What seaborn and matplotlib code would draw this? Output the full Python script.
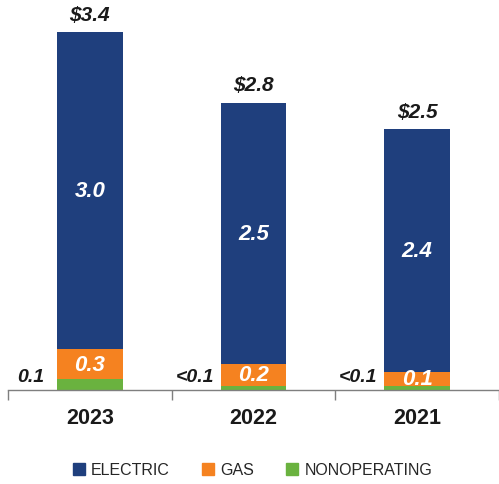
import matplotlib
matplotlib.use("Agg")
import matplotlib.pyplot as plt
import matplotlib.patches as mpatches
import seaborn as sns
import pandas as pd
import numpy as np

years = ["2023", "2022", "2021"]
electric = [3.0, 2.47, 2.30]
gas = [0.29, 0.21, 0.13]
nonop = [0.10, 0.04, 0.04]
total_labels = ["$3.4", "$2.8", "$2.5"]
electric_labels = ["3.0", "2.5", "2.4"]
gas_labels = ["0.3", "0.2", "0.1"]
nonop_labels = ["0.1", "<0.1", "<0.1"]

C_ELEC = "#1F3F7D"
C_GAS = "#F58220"
C_NON = "#6AB23F"

sns.set_theme(style="white")
plt.rcParams["font.family"] = ["Liberation Sans", "DejaVu Sans"]

df = pd.DataFrame({"year": years, "electric": electric, "gas": gas, "nonop": nonop})
df["top"] = df["electric"] + df["gas"] + df["nonop"]
df["mid"] = df["gas"] + df["nonop"]

fig = plt.figure(figsize=(4.99, 4.85), dpi=100)
ax = fig.add_axes([8 / 499, 1 - 391 / 485, 491 / 499, 391 / 485])

sns.barplot(data=df, x="year", y="top", color=C_ELEC, width=0.40, ax=ax, saturation=1, linewidth=0)
sns.barplot(data=df, x="year", y="mid", color=C_GAS, width=0.40, ax=ax, saturation=1, linewidth=0)
sns.barplot(data=df, x="year", y="nonop", color=C_NON, width=0.40, ax=ax, saturation=1, linewidth=0)

ax.set_xlim(-0.5, 2.5)
ax.set_ylim(0, 3.4 * 391 / 359)
ax.set_xlabel("")
ax.set_ylabel("")
ax.set_yticks([])
for s in ["top", "right", "left"]:
    ax.spines[s].set_visible(False)
ax.spines["bottom"].set_color("#7f7f7f")
ax.spines["bottom"].set_linewidth(1.0)

ax.set_xticks(range(len(years)))
ax.set_xticklabels(years, fontsize=15.5, fontweight="bold", color="#1a1a1a")
ax.tick_params(axis="x", which="major", length=0, pad=12)
ax.set_xticks([-0.5, 0.5, 1.5, 2.5], minor=True)
ax.tick_params(axis="x", which="minor", bottom=True, length=7, width=1, color="#7f7f7f", direction="out")

for i in range(len(years)):
    t = df["top"][i]
    ax.text(i, t + 0.08, total_labels[i], ha="center", va="bottom", color="#1a1a1a",
            fontsize=15, fontweight="bold", fontstyle="italic")
    ax.text(i, df["mid"][i] + df["electric"][i] / 2, electric_labels[i], ha="center", va="center",
            color="white", fontsize=16, fontweight="bold", fontstyle="italic")
    ax.text(i, df["nonop"][i] + df["gas"][i] / 2, gas_labels[i], ha="center", va="center",
            color="white", fontsize=16, fontweight="bold", fontstyle="italic")
    ax.text(i - 0.36, 0.128, nonop_labels[i], ha="center", va="center", color="#1a1a1a",
            fontsize=14, fontweight="bold", fontstyle="italic")

handles = [mpatches.Patch(color=C_ELEC, label="ELECTRIC"),
           mpatches.Patch(color=C_GAS, label="GAS"),
           mpatches.Patch(color=C_NON, label="NONOPERATING")]
fig.legend(handles=handles, loc="center", bbox_to_anchor=(0.506, 1 - 471 / 485), ncol=3,
           frameon=False, fontsize=11.5, handlelength=0.75, handleheight=0.75,
           handletextpad=0.4, columnspacing=2.0, labelcolor="#262626")

fig.savefig("out.png", dpi=100)
